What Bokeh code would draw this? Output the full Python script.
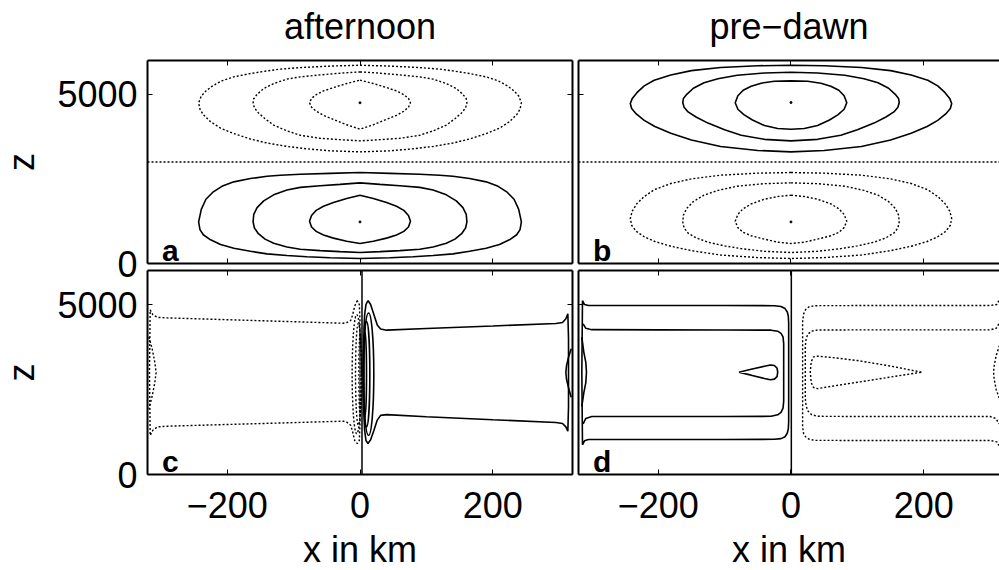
from bokeh.plotting import figure
from bokeh.models import LinearAxis, FixedTicker, Range1d, Span, Title
from bokeh.core.properties import value
from bokeh.layouts import column, row
from bokeh.embed import file_html
from bokeh.resources import INLINE

FONT = "Liberation Sans"

# ---------------- tick / text content ----------------
X_TICKS = [-200, 0, 200]
X_TICK_TEXT = ["\u2212200", "0", "200"]
Z_TICKS = [0, 5000]
Z_TICK_TEXT = ["0", "5000"]
COLUMN_TITLES = ["afternoon", "pre\u2212dawn"]
PANEL_LETTERS = ["a", "b", "c", "d"]
X_LABEL = "x in km"
Z_LABEL = "z"

X_MIN = -320
X_MAX_LEFT = 320
X_MAX_RIGHT = 314
Z_MIN, Z_MAX = 0, 6000

# ---------------- panel a (afternoon, upper) ----------------
# right halves (x >= 0) of symmetric closed contours, from top (x=0) round to bottom (x=0)
A_ZERO_Z = 3000
A_CENTER_Z = [4750, 1230]
A_UPPER_X = [
    [0, 45, 90, 120, 140, 165, 190, 208, 222, 232, 239, 243, 241, 236, 225, 210, 190, 165, 140, 110, 80, 45, 0],
    [0, 30, 60, 90, 110, 130, 145, 155, 160, 161, 159, 153, 143, 130, 110, 90, 60, 30, 0],
    [0, 20, 40, 55, 66, 73, 76, 73, 66, 55, 40, 20, 0],
]
A_UPPER_Z = [  # dotted
    [5860, 5835, 5790, 5745, 5693, 5615, 5516, 5400, 5250, 5100, 4950, 4750, 4560, 4400, 4190, 4000, 3840, 3680, 3560, 3460, 3390, 3330, 3300],
    [5664, 5625, 5575, 5516, 5450, 5319, 5170, 5000, 4870, 4750, 4600, 4450, 4280, 4090, 3920, 3790, 3700, 3660, 3625],
    [5418, 5320, 5200, 5100, 4990, 4880, 4750, 4620, 4500, 4380, 4260, 4100, 3970],
]
A_LOWER_X = [
    [0, 45, 90, 120, 140, 165, 190, 208, 222, 232, 239, 243, 241, 236, 225, 210, 190, 165, 140, 110, 80, 45, 0],
    [0, 30, 60, 90, 110, 130, 145, 155, 160, 161, 159, 153, 143, 130, 110, 90, 60, 30, 0],
    [0, 20, 40, 55, 66, 73, 76, 73, 66, 55, 40, 20, 0],
]
A_LOWER_Z = [  # solid
    [2689, 2665, 2640, 2610, 2580, 2510, 2413, 2280, 2100, 1900, 1600, 1231, 1000, 850, 700, 560, 450, 360, 285, 235, 200, 170, 148],
    [2384, 2340, 2300, 2250, 2170, 2030, 1850, 1650, 1450, 1231, 1050, 880, 720, 600, 490, 420, 380, 350, 325],
    [2019, 1920, 1800, 1690, 1570, 1420, 1250, 1080, 950, 840, 750, 660, 591],
]

# ---------------- panel b (pre-dawn, upper) ----------------
B_ZERO_Z = 3000
B_CENTER_Z = [4758, 1230]
B_UPPER_X = [
    [0, 50, 106, 150, 181, 206, 221, 232, 239, 242, 240, 233, 221, 205, 181, 150, 106, 50, 0],
    [0, 40, 81, 110, 131, 147, 157, 162, 163, 161, 155, 143, 125, 100, 75, 40, 0],
    [0, 25, 45, 60, 72, 80, 84, 80, 71, 58, 40, 20, 0],
]
B_UPPER_Z = [  # solid
    [5860, 5845, 5792, 5700, 5570, 5418, 5250, 5050, 4880, 4728, 4580, 4420, 4230, 4050, 3850, 3650, 3460, 3340, 3300],
    [5654, 5630, 5565, 5460, 5340, 5180, 5000, 4880, 4758, 4620, 4480, 4330, 4150, 3950, 3790, 3670, 3625],
    [5398, 5385, 5330, 5240, 5120, 4960, 4750, 4560, 4400, 4240, 4080, 3990, 3970],
]
B_LOWER_X = [
    [0, 50, 106, 150, 181, 206, 221, 232, 239, 242, 240, 233, 221, 205, 181, 150, 106, 50, 0],
    [0, 40, 81, 110, 131, 147, 157, 162, 163, 161, 155, 143, 125, 100, 75, 40, 0],
    [0, 20, 40, 60, 72, 80, 84, 80, 72, 60, 40, 20, 0],
]
B_LOWER_Z = [  # dotted
    [2689, 2670, 2610, 2500, 2364, 2180, 1980, 1770, 1550, 1330, 1130, 950, 790, 650, 510, 380, 250, 175, 148],
    [2384, 2360, 2285, 2160, 2020, 1830, 1630, 1430, 1231, 1050, 900, 760, 630, 520, 440, 360, 325],
    [2019, 1980, 1900, 1760, 1620, 1450, 1250, 1060, 920, 820, 720, 630, 591],
]

# ---------------- panel c (afternoon, lower) ----------------
C_VLINE_X = 3
C_DOTTED_X = [
    [-4, -8, -11, -14, -20, -25, -100, -200, -290, -305, -312, -316, -317, -316, -312,
     -305, -290, -200, -100, -25, -20, -14, -11, -8, -4, -1, 0, 0, -1, -4],
    [-318, -313, -309, -307, -309, -313, -318],
]
C_DOTTED_Z = [
    [5117, 4950, 4700, 4530, 4470, 4449, 4494, 4553, 4606, 4620, 4700, 4841, 3000, 1150, 1300,
     1400, 1421, 1471, 1526, 1568, 1540, 1450, 1250, 1000, 911, 1000, 1500, 4500, 5000, 5117],
    [4040, 3700, 3300, 3000, 2700, 2300, 1930],
]
C_SOLID_X = [
    [12, 16, 21, 26, 31, 40, 100, 200, 295, 305, 310, 313, 314, 314, 313, 310, 305, 295,
     200, 100, 40, 31, 26, 21, 16, 12, 9, 7, 6, 6, 7, 9, 12],
    [318, 314, 311, 310, 311, 314, 318],
]
C_SOLID_Z = [
    [5117, 5000, 4700, 4400, 4280, 4245, 4292, 4368, 4441, 4470, 4580, 4724, 4000, 2000, 1274,
     1400, 1500, 1530, 1610, 1698, 1760, 1740, 1600, 1300, 1020, 911, 1000, 1300, 1700, 4300,
     4700, 5000, 5117],
    [3700, 3450, 3200, 3000, 2800, 2550, 2270],
]
C_CELL_Z = 2950
C_DOT_CELL_X = [-4.9, -2.4, 0.2]
C_DOT_CELL_W = [13.8, 8.7, 3.7]
C_DOT_CELL_H = [3500, 3000, 2400]
C_SOL_CELL_X = [12.9, 9.9, 7.4]
C_SOL_CELL_W = [15.8, 9.8, 4.8]
C_SOL_CELL_H = [3600, 3100, 2500]

# ---------------- panel d (pre-dawn, lower) ----------------
D_VLINE_X = 0.5
D_SOLID_X = [
    [-314, -311, -305, -200, -100, -25, -15, -9, -5.5, -4, -3.5, -3.5, -4, -5.5, -9, -15, -25,
     -100, -200, -305, -311, -314, -315, -314],
    [-313, -309, -300, -200, -100, -30, -20, -15, -12, -11, -11, -12, -15, -20, -30, -100,
     -200, -300, -309, -313],
    [-78.5, -60, -40, -31, -25, -21, -20, -21, -25, -31, -40, -60, -78.5],
    [-315, -312, -309, -308, -309, -312, -315],
]
D_SOLID_Z = [
    [5116, 5000, 4969, 4969, 4969, 4965, 4940, 4880, 4780, 4650, 4450, 1550, 1350, 1220, 1110,
     1055, 1035, 1030, 1030, 1029, 990, 872, 3000, 5116],
    [4430, 4300, 4260, 4255, 4250, 4245, 4215, 4150, 4050, 3850, 2150, 1950, 1830, 1755, 1712,
     1705, 1705, 1705, 1650, 1490],
    [3010, 3093, 3182, 3222, 3205, 3130, 3010, 2880, 2805, 2785, 2826, 2922, 3010],
    [4040, 3600, 3300, 3009, 2700, 2400, 2000],
]
D_DOTTED_X = [
    [313, 310, 300, 200, 100, 35, 27, 22, 19, 17.5, 17.5, 19, 22, 27, 35, 100, 200, 300, 310, 313],
    [313, 309, 300, 200, 100, 40, 31, 25, 22.5, 21.5, 21.5, 22.5, 25, 31, 40, 100, 200, 300, 309, 313],
    [196.5, 150, 100, 60, 40, 34, 30.5, 29, 30.5, 34, 40, 60, 100, 150, 196.5],
    [314, 309, 306, 305, 306, 309, 314],
]
D_DOTTED_Z = [
    [5116, 5000, 4969, 4969, 4969, 4965, 4930, 4850, 4720, 4500, 1400, 1200, 1110, 1040, 1005,
     1000, 1000, 1000, 960, 853],
    [4430, 4300, 4253, 4253, 4253, 4250, 4215, 4120, 3950, 3750, 2250, 2050, 1880, 1760, 1712,
     1705, 1705, 1705, 1640, 1490],
    [3009, 3190, 3352, 3445, 3480, 3460, 3320, 3009, 2700, 2560, 2525, 2591, 2713, 2866, 3009],
    [3793, 3500, 3200, 3009, 2800, 2500, 2225],
]

# ---------------- styling ----------------
SOLID = dict(line_color="black", line_width=1.6)
DOTTED = dict(line_color="black", line_width=1.4, line_dash="2 2")
TICK_FONT_SIZE = "36px"
TEXT_FONT_SIZE = "36px"
LETTER_FONT_SIZE = "30px"
LETTER_X = -298
LETTER_Z = 370
TITLE_STANDOFF = 28
ZLABEL_STANDOFF = 12
BORDER_TOP = 76
BORDER_LEFT = 165
SHIFT_UP = 16      # top border overflow hidden above the page
SHIFT_LEFT = 18    # left border overflow hidden left of the page
ROW_GAP_TOP = 22   # lower border of upper row (holds the "0" label)
ROW_GAP_BOT = 7    # upper border of lower row


def mirrored_set(x_lists, z_lists):
    out_x, out_z = [], []
    for xh, zh in zip(x_lists, z_lists):
        out_x.append(list(xh) + [-v for v in xh[::-1][1:]])
        out_z.append(list(zh) + list(zh[::-1][1:]))
    return out_x, out_z


def style_axis(ax, show_labels, standoff=0):
    ax.axis_line_width = 2
    ax.axis_line_color = "black"
    ax.major_tick_in = 5
    ax.major_tick_out = 0
    ax.major_tick_line_width = 1
    ax.major_tick_line_color = "black"
    ax.minor_tick_line_color = None
    if show_labels:
        ax.major_label_text_font = FONT
        ax.major_label_text_font_size = TICK_FONT_SIZE
        ax.major_label_text_color = "black"
        ax.major_label_standoff = standoff
    else:
        ax.major_label_text_font_size = "0px"
        ax.major_label_text_color = None
        ax.major_label_standoff = 0


def make_panel(x_end, frame_w, frame_h, top, right, bottom, left,
               z_labels, x_labels, right_axis, title=None):
    p = figure(x_range=Range1d(X_MIN, x_end), y_range=Range1d(Z_MIN, Z_MAX),
               frame_width=frame_w, frame_height=frame_h,
               min_border_top=top, min_border_right=right,
               min_border_bottom=bottom, min_border_left=left,
               x_axis_location=None, y_axis_location=None,
               output_backend="svg", toolbar_location=None, tools="")
    p.grid.visible = False
    p.outline_line_color = None
    p.border_fill_color = None
    p.background_fill_color = None

    below = LinearAxis(ticker=FixedTicker(ticks=X_TICKS))
    style_axis(below, x_labels, 17)
    if x_labels:
        below.major_label_overrides = dict(zip(X_TICKS, X_TICK_TEXT))
        below.axis_label = X_LABEL
        below.axis_label_text_font = FONT
        below.axis_label_text_font_size = TEXT_FONT_SIZE
        below.axis_label_text_font_style = "normal"
        below.axis_label_text_color = "black"
        below.axis_label_standoff = 8
    p.add_layout(below, "below")

    above = LinearAxis(ticker=FixedTicker(ticks=X_TICKS))
    style_axis(above, False)
    p.add_layout(above, "above")

    lft = LinearAxis(ticker=FixedTicker(ticks=Z_TICKS))
    style_axis(lft, z_labels, 10)
    if z_labels:
        lft.major_label_overrides = dict(zip(Z_TICKS, Z_TICK_TEXT))
        lft.axis_label = Z_LABEL
        lft.axis_label_text_font = FONT
        lft.axis_label_text_font_size = TEXT_FONT_SIZE
        lft.axis_label_text_font_style = "normal"
        lft.axis_label_text_color = "black"
        lft.axis_label_standoff = ZLABEL_STANDOFF
    p.add_layout(lft, "left")

    if right_axis:
        rgt = LinearAxis(ticker=FixedTicker(ticks=Z_TICKS))
        style_axis(rgt, False)
        p.add_layout(rgt, "right")

    if title is not None:
        t = Title(text=title, align="center", text_font=FONT, text_font_size=TEXT_FONT_SIZE,
                  text_font_style="normal", text_color="black", standoff=TITLE_STANDOFF)
        p.add_layout(t, "above")
    return p


def add_letter(p, letter):
    p.text(x=[LETTER_X], y=[LETTER_Z], text=[letter], text_font=value(FONT),
           text_font_size=value(LETTER_FONT_SIZE), text_font_style="bold",
           text_baseline="middle", text_align="left", text_color="black")


# ---------------- panels ----------------
fa = make_panel(X_MAX_LEFT, 425, 203, BORDER_TOP, 3, ROW_GAP_TOP, BORDER_LEFT,
                True, False, True, COLUMN_TITLES[0])
fb = make_panel(X_MAX_RIGHT, 421, 203, BORDER_TOP, 0, ROW_GAP_TOP, 3,
                False, False, False, COLUMN_TITLES[1])
fc = make_panel(X_MAX_LEFT, 425, 204, ROW_GAP_BOT, 3, 96, BORDER_LEFT, True, True, True)
fd = make_panel(X_MAX_RIGHT, 421, 204, ROW_GAP_BOT, 0, 96, 3, False, True, False)

# panel a
ux, uz = mirrored_set(A_UPPER_X, A_UPPER_Z)
lx, lz = mirrored_set(A_LOWER_X, A_LOWER_Z)
fa.multi_line(xs=ux, ys=uz, **DOTTED)
fa.multi_line(xs=lx, ys=lz, **SOLID)
fa.add_layout(Span(location=A_ZERO_Z, dimension="width", **DOTTED))
fa.scatter(x=[0] * len(A_CENTER_Z), y=A_CENTER_Z, size=2, color="black")

# panel b
ux, uz = mirrored_set(B_UPPER_X, B_UPPER_Z)
lx, lz = mirrored_set(B_LOWER_X, B_LOWER_Z)
fb.multi_line(xs=ux, ys=uz, **SOLID)
fb.multi_line(xs=lx, ys=lz, **DOTTED)
fb.add_layout(Span(location=B_ZERO_Z, dimension="width", **DOTTED))
fb.scatter(x=[0] * len(B_CENTER_Z), y=B_CENTER_Z, size=2, color="black")

# panel c
fc.multi_line(xs=C_DOTTED_X, ys=C_DOTTED_Z, **DOTTED)
fc.multi_line(xs=C_SOLID_X, ys=C_SOLID_Z, **SOLID)
fc.ellipse(x=C_DOT_CELL_X, y=[C_CELL_Z] * len(C_DOT_CELL_X), width=C_DOT_CELL_W,
           height=C_DOT_CELL_H, fill_color=None, **DOTTED)
fc.ellipse(x=C_SOL_CELL_X, y=[C_CELL_Z] * len(C_SOL_CELL_X), width=C_SOL_CELL_W,
           height=C_SOL_CELL_H, fill_color=None, **SOLID)
fc.add_layout(Span(location=C_VLINE_X, dimension="height", line_color="black", line_width=1.5))

# panel d
fd.multi_line(xs=D_SOLID_X, ys=D_SOLID_Z, **SOLID)
fd.multi_line(xs=D_DOTTED_X, ys=D_DOTTED_Z, **DOTTED)
fd.add_layout(Span(location=D_VLINE_X, dimension="height", line_color="black", line_width=1.5))

for fig, letter in zip([fa, fb, fc, fd], PANEL_LETTERS):
    add_letter(fig, letter)

top_row = row(fa, fb)
bottom_row = row(fc, fd, margin=(-(ROW_GAP_TOP + ROW_GAP_BOT) + 7, 0, 0, 0))
layout = column(top_row, bottom_row, margin=(-SHIFT_UP, 0, 0, -SHIFT_LEFT))

open("out.html", "w").write(file_html(layout, INLINE))
